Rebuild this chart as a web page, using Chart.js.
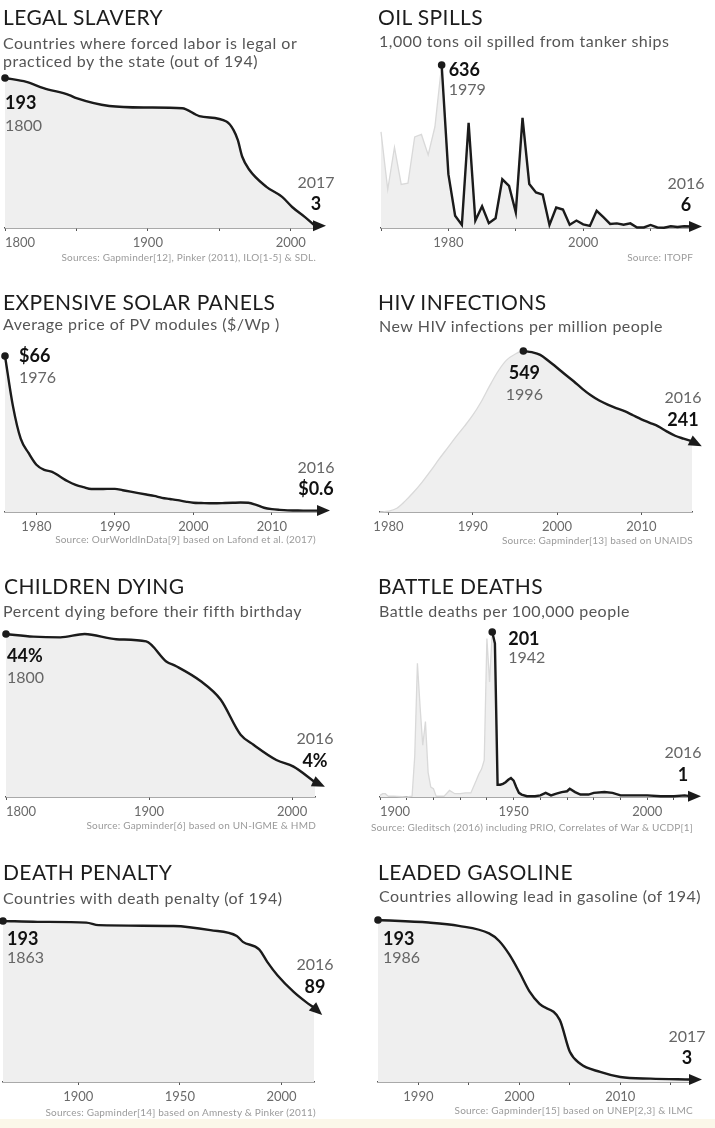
<!DOCTYPE html>
<html>
<head>
<meta charset="utf-8">
<title>Things that are getting better</title>
<script src="https://cdn.jsdelivr.net/npm/chart.js@4.4.1/dist/chart.umd.min.js"></script>
<style>
  html, body { margin: 0; padding: 0; background: #fff; }
  body { width: 715px; height: 1128px; position: relative; overflow: hidden; font-family: Lato, "Open Sans", sans-serif; }
  canvas { position: absolute; }
  .title { position: absolute; font-size: 21px; line-height: 21px; letter-spacing: 0.4px; color: #1c1c1c; white-space: nowrap; z-index: 2; }
  .sub { position: absolute; font-size: 16px; line-height: 18px; letter-spacing: 0.5px; color: #555; white-space: nowrap; z-index: 2; }
  .src { position: absolute; font-size: 10px; line-height: 11px; letter-spacing: 0.2px; color: #9a9a9a; text-align: right; white-space: nowrap; z-index: 2; }
  .strip { position: absolute; left: 0; top: 1119px; width: 715px; height: 9px; background: #fbf7e9; }
</style>
</head>
<body>

<canvas id="slavery" width="357" height="280" style="left:0;top:0"></canvas>
<canvas id="oil" width="355" height="280" style="left:360px;top:0"></canvas>
<canvas id="solar" width="357" height="280" style="left:0;top:280px"></canvas>
<canvas id="hiv" width="355" height="280" style="left:360px;top:280px"></canvas>
<canvas id="child" width="357" height="285" style="left:0;top:560px"></canvas>
<canvas id="battle" width="355" height="285" style="left:360px;top:560px"></canvas>
<canvas id="death" width="357" height="274" style="left:0;top:845px"></canvas>
<canvas id="lead" width="355" height="274" style="left:360px;top:845px"></canvas>

<div class="title" style="left:3px;top:6px">LEGAL SLAVERY</div>
<div class="sub" style="left:3px;top:34px">Countries where forced labor is legal or<br>practiced by the state (out of 194)</div>
<div class="src" style="left:0;width:316px;top:252px">Sources: Gapminder[12], Pinker (2011), ILO[1-5] &amp; SDL.</div>

<div class="title" style="left:378px;top:6px">OIL SPILLS</div>
<div class="sub" style="left:379px;top:32px">1,000 tons oil spilled from tanker ships</div>
<div class="src" style="left:360px;width:333px;top:252px">Source: ITOPF</div>

<div class="title" style="left:3px;top:291px">EXPENSIVE SOLAR PANELS</div>
<div class="sub" style="left:3px;top:315px">Average price of PV modules ($/Wp )</div>
<div class="src" style="left:0;width:316px;top:534px">Source: OurWorldInData[9] based on Lafond et al. (2017)</div>

<div class="title" style="left:378px;top:291px">HIV INFECTIONS</div>
<div class="sub" style="left:379px;top:317px">New HIV infections per million people</div>
<div class="src" style="left:360px;width:333px;top:535px">Source: Gapminder[13] based on UNAIDS</div>

<div class="title" style="left:4px;top:575px">CHILDREN DYING</div>
<div class="sub" style="left:3px;top:602px">Percent dying before their fifth birthday</div>
<div class="src" style="left:0;width:316px;top:820px">Source: Gapminder[6] based on UN-IGME &amp; HMD</div>

<div class="title" style="left:378px;top:575px">BATTLE DEATHS</div>
<div class="sub" style="left:379px;top:602px">Battle deaths per 100,000 people</div>
<div class="src" style="left:360px;width:333px;top:822px">Source: Gleditsch (2016) including PRIO, Correlates of War &amp; UCDP[1]</div>

<div class="title" style="left:3px;top:861px">DEATH PENALTY</div>
<div class="sub" style="left:3px;top:889px">Countries with death penalty (of 194)</div>
<div class="src" style="left:0;width:316px;top:1107px">Sources: Gapminder[14] based on Amnesty &amp; Pinker (2011)</div>

<div class="title" style="left:378px;top:861px">LEADED GASOLINE</div>
<div class="sub" style="left:379px;top:887px">Countries allowing lead in gasoline (of 194)</div>
<div class="src" style="left:360px;width:333px;top:1105px">Source: Gapminder[15] based on UNEP[2,3] &amp; ILMC</div>

<div class="strip"></div>

<script>
// ---- data ----
const slaveryYears = [1800, 1815, 1827, 1845, 1850, 1873, 1899, 1924, 1936, 1955, 1960, 1963, 1966, 1971, 1983, 1994, 2001, 2010, 2017];
const slaveryValues = [193, 188, 180, 171, 167, 157, 155, 154, 144, 137, 126, 113, 92, 75, 53, 40, 27, 14, 3];
const slaveryTicks = [1800, 1850, 1900, 1950, 2000, 2017];
const slaveryTickLabels = ['1800', '', '1900', '', '2000', ''];

const oilYears = [1970, 1971, 1972, 1973, 1974, 1975, 1976, 1977, 1978, 1979,
  1980, 1981, 1982, 1983, 1984, 1985, 1986, 1987, 1988, 1989,
  1990, 1991, 1992, 1993, 1994, 1995, 1996, 1997, 1998, 1999,
  2000, 2001, 2002, 2003, 2004, 2005, 2006, 2007, 2008, 2009,
  2010, 2011, 2012, 2013, 2014, 2015, 2016];
const oilValues = [375, 150, 315, 170, 175, 355, 365, 285, 395, 636,
  210, 48, 12, 410, 29, 85, 19, 38, 190, 164,
  61, 430, 172, 139, 130, 12, 80, 72, 13, 29,
  14, 8, 67, 42, 16, 18, 13, 18, 2, 2,
  12, 2, 1, 7, 4, 7, 6];
const oilTicks = [1970, 1980, 1990, 2000, 2010];
const oilTickLabels = ['', '1980', '', '2000', ''];

const solarYears = [1976, 1977, 1978, 1979, 1980, 1981, 1982, 1983, 1984, 1985,
  1986, 1987, 1988, 1989, 1990, 1991, 1992, 1993, 1994, 1995,
  1996, 1997, 1998, 1999, 2000, 2001, 2002, 2003, 2004, 2005,
  2006, 2007, 2008, 2009, 2010, 2011, 2012, 2013, 2014, 2015, 2016];
const solarValues = [66, 45, 31, 25, 20, 17.8, 17, 15, 13, 11.5,
  10.5, 9.7, 9.7, 9.8, 9.8, 9.2, 8.6, 8.0, 7.4, 6.8,
  6.0, 5.5, 5.0, 4.4, 3.9, 3.8, 3.7, 3.7, 3.8, 3.9,
  4.0, 3.9, 3.0, 1.8, 1.2, 0.9, 0.7, 0.65, 0.6, 0.6, 0.6];
const solarTicks = [1980, 1990, 2000, 2010];
const solarTickLabels = ['1980', '1990', '2000', '2010'];

const hivYears = [1979, 1980, 1981, 1982, 1983, 1984, 1985, 1986, 1987, 1988,
  1989, 1990, 1991, 1992, 1993, 1994, 1995, 1996, 1997, 1998,
  1999, 2000, 2001, 2002, 2003, 2004, 2005, 2006, 2007, 2008,
  2009, 2010, 2011, 2012, 2013, 2014, 2015, 2016];
const hivValues = [0, 3, 13, 38, 68, 102, 140, 180, 218, 256,
  292, 330, 376, 430, 480, 518, 538, 549, 545, 536,
  515, 492, 468, 445, 420, 398, 380, 366, 354, 344,
  330, 316, 304, 292, 275, 260, 250, 241];
const hivTicks = [1980, 1990, 2000, 2010];
const hivTickLabels = ['1980', '1990', '2000', '2010'];

const childYears = [1800, 1819, 1838, 1855, 1877, 1898, 1912, 1919, 1936, 1950, 1964, 1973, 1989, 2001, 2016];
const childValues = [44, 43.3, 43.1, 44, 42.6, 42, 36.6, 35.3, 31.3, 26.3, 16.8, 14.1, 10, 8.2, 4];
const childTicks = [1800, 1900, 2000, 2016];
const childTickLabels = ['1800', '1900', '2000', ''];

const battleYears = [1900, 1901, 1902, 1903, 1905, 1910, 1912, 1913, 1914, 1915,
  1916, 1917, 1918, 1919, 1920, 1921, 1924, 1926, 1928, 1930,
  1932, 1934, 1936, 1937, 1938, 1939, 1940, 1941, 1942, 1943,
  1944, 1945, 1946, 1947, 1948, 1949, 1950, 1951, 1952, 1953,
  1955, 1958, 1960, 1962, 1964, 1966, 1968, 1970, 1971, 1973,
  1975, 1978, 1980, 1984, 1987, 1990, 1995, 2000, 2005, 2010, 2014, 2016];
const battleValues = [2, 4, 4, 1, 1, 0, 1, 50, 163, 110,
  63, 92, 30, 12, 10, 1, 1, 8, 4, 4,
  5, 5, 20, 28, 34, 45, 193, 140, 201, 187,
  15, 15, 16, 18, 21, 23, 20, 12, 5, 3,
  1, 1, 2, 5, 2, 4, 6, 7, 10, 6,
  3, 3, 5, 6, 5, 2, 2, 2, 1, 1, 2, 1];
const battleTicks = [1900, 1910, 1920, 1930, 1940, 1950, 1960, 1970, 1980, 1990, 2000, 2010];
const battleTickLabels = ['1900', '', '', '', '', '1950', '', '', '', '', '2000', ''];

const deathYears = [1863, 1880, 1904, 1910, 1947, 1965, 1978, 1981, 1989, 1993, 1998, 2006, 2012, 2016];
const deathValues = [193, 192, 191, 188, 187, 182, 175, 168, 159, 144, 128, 108, 96, 89];
const deathTicks = [1900, 1950, 2000];
const deathTickLabels = ['1900', '1950', '2000'];

const leadYears = [1986, 1991, 1994, 1997, 1998, 1999, 2000, 2001, 2002, 2004, 2005, 2006, 2008, 2010, 2013, 2017];
const leadValues = [193, 190, 186, 177, 168, 152, 131, 108, 93, 74, 36, 22, 12, 6, 4, 3];
const leadTicks = [1990, 1995, 2000, 2005, 2010, 2015];
const leadTickLabels = ['1990', '', '2000', '', '2010', ''];

// which year the dark line starts at, and the two callouts
const panels = [
  { id: 'slavery', years: slaveryYears, values: slaveryValues, from: 1800, ticks: slaveryTicks, tickLabels: slaveryTickLabels, startText: ['193', '1800'], endText: ['2017', '3'] },
  { id: 'oil', years: oilYears, values: oilValues, from: 1979, ticks: oilTicks, tickLabels: oilTickLabels, startText: ['636', '1979'], endText: ['2016', '6'] },
  { id: 'solar', years: solarYears, values: solarValues, from: 1976, ticks: solarTicks, tickLabels: solarTickLabels, startText: ['$66', '1976'], endText: ['2016', '$0.6'] },
  { id: 'hiv', years: hivYears, values: hivValues, from: 1996, ticks: hivTicks, tickLabels: hivTickLabels, startText: ['549', '1996'], endText: ['2016', '241'] },
  { id: 'child', years: childYears, values: childValues, from: 1800, ticks: childTicks, tickLabels: childTickLabels, startText: ['44%', '1800'], endText: ['2016', '4%'] },
  { id: 'battle', years: battleYears, values: battleValues, from: 1942, ticks: battleTicks, tickLabels: battleTickLabels, startText: ['201', '1942'], endText: ['2016', '1'] },
  { id: 'death', years: deathYears, values: deathValues, from: 1863, ticks: deathTicks, tickLabels: deathTickLabels, startText: ['193', '1863'], endText: ['2016', '89'] },
  { id: 'lead', years: leadYears, values: leadValues, from: 1986, ticks: leadTicks, tickLabels: leadTickLabels, startText: ['193', '1986'], endText: ['2017', '3'] }
];

// ---- layout per canvas (pixels inside each canvas) ----
// x0/x1: where first/last year sit, y0: top of plot (max value), y1: axis line
// start: [mode, dx, dy value, dy year]
const frames = {
  slavery: { x0: 5, x1: 315, y0: 78, y1: 228, align: 'inner', smooth: true, arrow: 0, start: ['below', 0, 25, 48], endDx: 1 },
  oil: { x0: 21, x1: 331, y0: 65, y1: 228, align: 'center', smooth: false, arrow: 0, start: ['right', 7, 5, 25], endDx: -5 },
  solar: { x0: 5, x1: 319, y0: 76, y1: 232, align: 'center', smooth: true, arrow: 0, start: ['right', 14, 0, 22], endDx: -3 },
  hiv: { x0: 20, x1: 332, y0: 71, y1: 232, align: 'center', smooth: true, arrow: 27, start: ['center', 1, 22, 44], endDx: -9 },
  child: { x0: 6, x1: 315, y0: 74, y1: 237, align: 'inner', smooth: true, arrow: 25, start: ['below', 1, 22, 44], endDx: 0 },
  battle: { x0: 20, x1: 330, y0: 72, y1: 237, align: 'inner', smooth: false, arrow: 0, start: ['right', 16, 7, 26], endDx: -7 },
  death: { x0: 3, x1: 314, y0: 76, y1: 237, align: 'center', smooth: true, arrow: 42, start: ['below', 4, 18, 37], endDx: 1 },
  lead: { x0: 18, x1: 331, y0: 75, y1: 237, align: 'center', smooth: true, arrow: 0, start: ['below', 5, 19, 38], endDx: -4 }
};

const INK = '#1b1b1b';
const AXIS_H = 24;

Chart.defaults.font.family = 'Lato, "Open Sans", sans-serif';

// arrow head at the end of the dark line + the two callouts
function makeMarks(p, f) {
  return {
    id: 'marks_' + p.id,
    afterDatasetsDraw(chart) {
      const ctx = chart.ctx;
      const pts = chart.getDatasetMeta(1).data;
      const first = pts[0];
      const last = pts[pts.length - 1];

      const ang = f.arrow * Math.PI / 180;
      const c = Math.cos(ang), s = Math.sin(ang);
      const bx = last.x - c * 2, by = last.y - s * 2;
      ctx.save();
      ctx.fillStyle = INK;
      ctx.beginPath();
      ctx.moveTo(bx + c * 13, by + s * 13);
      ctx.lineTo(bx - s * 5.5, by + c * 5.5);
      ctx.lineTo(bx + s * 5.5, by - c * 5.5);
      ctx.closePath();
      ctx.fill();

      ctx.textBaseline = 'middle';
      const [mode, dx, dyV, dyY] = f.start;
      ctx.textAlign = mode === 'center' ? 'center' : 'left';
      ctx.fillStyle = '#111';
      ctx.font = 'bold 18px Lato, "Open Sans", sans-serif';
      ctx.fillText(p.startText[0], first.x + dx, first.y + dyV);
      ctx.fillStyle = '#666';
      ctx.font = '16px Lato, "Open Sans", sans-serif';
      ctx.fillText(p.startText[1], first.x + dx, first.y + dyY);

      ctx.textAlign = 'center';
      ctx.fillText(p.endText[0], last.x + f.endDx, last.y - 43);
      ctx.fillStyle = '#111';
      ctx.font = 'bold 18px Lato, "Open Sans", sans-serif';
      ctx.fillText(p.endText[1], last.x + f.endDx, last.y - 21);
      ctx.restore();
    }
  };
}

function drawPanel(p) {
  const f = frames[p.id];
  const canvas = document.getElementById(p.id);
  const W = canvas.width, H = canvas.height;

  const all = p.years.map((y, i) => ({ x: y, y: p.values[i] }));
  const dark = all.filter(d => d.x >= p.from);
  const xmin = p.years[0];
  const xmax = p.years[p.years.length - 1];
  const curve = f.smooth ? { cubicInterpolationMode: 'monotone' } : { tension: 0 };

  new Chart(canvas, {
    type: 'line',
    data: {
      datasets: [
        // grey area (drawn underneath)
        Object.assign({
          data: all,
          order: 2,
          borderColor: '#d9d9d9',
          borderWidth: 1.3,
          backgroundColor: '#efefef',
          fill: 'origin',
          pointRadius: 0,
          clip: false
        }, curve),
        // dark line on top
        Object.assign({
          data: dark,
          order: 1,
          borderColor: INK,
          borderWidth: 2.4,
          fill: false,
          pointRadius: c => (c.dataIndex === 0 ? 3.8 : 0),
          pointBackgroundColor: INK,
          pointBorderWidth: 0,
          clip: false
        }, curve)
      ]
    },
    options: {
      responsive: false,
      animation: false,
      events: [],
      layout: {
        autoPadding: false,
        padding: { left: f.x0, right: W - f.x1, top: f.y0, bottom: H - f.y1 - AXIS_H }
      },
      plugins: { legend: { display: false }, tooltip: { enabled: false } },
      scales: {
        x: {
          type: 'linear',
          min: xmin,
          max: xmax,
          afterBuildTicks: s => { s.ticks = p.ticks.map(v => ({ value: v })); },
          afterFit: s => { s.height = AXIS_H; s.paddingLeft = 0; s.paddingRight = 0; },
          ticks: {
            autoSkip: false,
            maxRotation: 0,
            align: f.align,
            padding: 4,
            color: '#6a6a6a',
            font: { size: 13 },
            callback: (v, i) => p.tickLabels[i]
          },
          grid: {
            display: true,
            drawOnChartArea: false,
            drawTicks: true,
            tickLength: 3,
            lineWidth: 1,
            color: c => (c.tick && c.tick.value === xmax ? 'rgba(0,0,0,0)' : '#555')
          },
          border: { display: true, color: '#555', width: 1.6 }
        },
        y: { display: false, min: 0, max: Math.max(...p.values) }
      }
    },
    plugins: [makeMarks(p, f)]
  });
}

document.fonts.ready.then(() => panels.forEach(drawPanel));
</script>
</body>
</html>
